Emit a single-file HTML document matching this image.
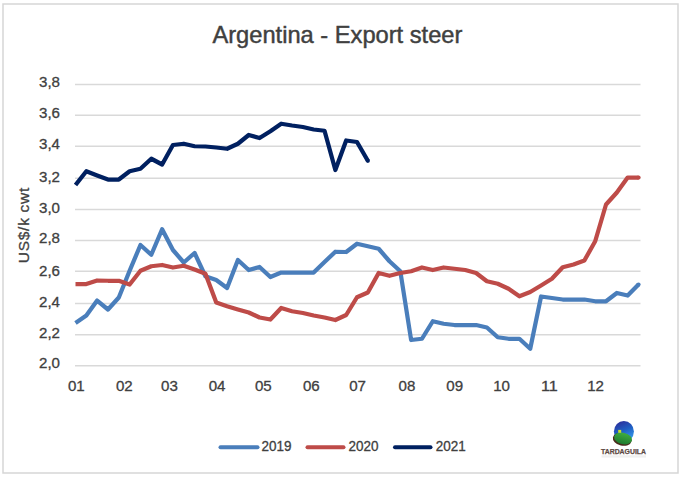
<!DOCTYPE html>
<html><head><meta charset="utf-8">
<style>
html,body{margin:0;padding:0;background:#fff;}
body{width:688px;height:483px;overflow:hidden;}
svg{display:block;}
text{font-family:"Liberation Sans", sans-serif;fill:#404040;stroke:#404040;stroke-width:0.3px;}
.ax{font-size:15.2px;}
.title{font-size:24px;stroke-width:0.45px;}
.yt{font-size:15.5px;}
.lg{font-size:14px;}
.logo{font-size:7px;font-weight:bold;fill:#5e4a44;stroke:#5e4a44;stroke-width:0.25px;}
</style></head>
<body>
<svg width="688" height="483" viewBox="0 0 688 483">
<rect x="3" y="4" width="675" height="469" fill="#fff" stroke="#d6d6d6" stroke-width="1.5"/>
<line x1="75" y1="84.40" x2="640.5" y2="84.40" stroke="#d9d9d9" stroke-width="1.5"/>
<line x1="75" y1="115.30" x2="640.5" y2="115.30" stroke="#d9d9d9" stroke-width="1.5"/>
<line x1="75" y1="146.30" x2="640.5" y2="146.30" stroke="#d9d9d9" stroke-width="1.5"/>
<line x1="75" y1="178.30" x2="640.5" y2="178.30" stroke="#d9d9d9" stroke-width="1.5"/>
<line x1="75" y1="209.50" x2="640.5" y2="209.50" stroke="#d9d9d9" stroke-width="1.5"/>
<line x1="75" y1="240.50" x2="640.5" y2="240.50" stroke="#d9d9d9" stroke-width="1.5"/>
<line x1="75" y1="271.30" x2="640.5" y2="271.30" stroke="#d9d9d9" stroke-width="1.5"/>
<line x1="75" y1="303.50" x2="640.5" y2="303.50" stroke="#d9d9d9" stroke-width="1.5"/>
<line x1="75" y1="334.80" x2="640.5" y2="334.80" stroke="#d9d9d9" stroke-width="1.5"/>
<line x1="75" y1="365.70" x2="640.5" y2="365.70" stroke="#d9d9d9" stroke-width="1.5"/>
<text x="60" y="87.15" text-anchor="end" class="ax" textLength="21" lengthAdjust="spacingAndGlyphs">3,8</text>
<text x="60" y="118.30" text-anchor="end" class="ax" textLength="21" lengthAdjust="spacingAndGlyphs">3,6</text>
<text x="60" y="149.30" text-anchor="end" class="ax" textLength="21" lengthAdjust="spacingAndGlyphs">3,4</text>
<text x="60" y="181.70" text-anchor="end" class="ax" textLength="21" lengthAdjust="spacingAndGlyphs">3,2</text>
<text x="60" y="212.50" text-anchor="end" class="ax" textLength="21" lengthAdjust="spacingAndGlyphs">3,0</text>
<text x="60" y="243.40" text-anchor="end" class="ax" textLength="21" lengthAdjust="spacingAndGlyphs">2,8</text>
<text x="60" y="275.60" text-anchor="end" class="ax" textLength="21" lengthAdjust="spacingAndGlyphs">2,6</text>
<text x="60" y="306.60" text-anchor="end" class="ax" textLength="21" lengthAdjust="spacingAndGlyphs">2,4</text>
<text x="60" y="337.60" text-anchor="end" class="ax" textLength="21" lengthAdjust="spacingAndGlyphs">2,2</text>
<text x="60" y="368.30" text-anchor="end" class="ax" textLength="21" lengthAdjust="spacingAndGlyphs">2,0</text>
<text x="67.90" y="390.85" class="ax" textLength="16.8" lengthAdjust="spacingAndGlyphs">01</text>
<text x="115.90" y="390.85" class="ax" textLength="16.8" lengthAdjust="spacingAndGlyphs">02</text>
<text x="161.10" y="390.85" class="ax" textLength="16.8" lengthAdjust="spacingAndGlyphs">03</text>
<text x="208.70" y="390.85" class="ax" textLength="16.8" lengthAdjust="spacingAndGlyphs">04</text>
<text x="254.90" y="390.85" class="ax" textLength="16.8" lengthAdjust="spacingAndGlyphs">05</text>
<text x="302.90" y="390.85" class="ax" textLength="16.8" lengthAdjust="spacingAndGlyphs">06</text>
<text x="349.20" y="390.85" class="ax" textLength="16.8" lengthAdjust="spacingAndGlyphs">07</text>
<text x="398.60" y="390.85" class="ax" textLength="16.8" lengthAdjust="spacingAndGlyphs">08</text>
<text x="446.35" y="390.85" class="ax" textLength="16.8" lengthAdjust="spacingAndGlyphs">09</text>
<text x="493.20" y="390.85" class="ax" textLength="16.8" lengthAdjust="spacingAndGlyphs">10</text>
<text x="541.00" y="390.85" class="ax" textLength="16.8" lengthAdjust="spacingAndGlyphs">11</text>
<text x="587.20" y="390.85" class="ax" textLength="16.8" lengthAdjust="spacingAndGlyphs">12</text>
<text x="212.4" y="43.1" class="title" textLength="250" lengthAdjust="spacingAndGlyphs">Argentina - Export steer</text>
<text transform="translate(29,263.2) rotate(-90)" x="0" y="0" class="yt" textLength="75.5" lengthAdjust="spacing">US$/k cwt</text>
<polyline points="75.50,323.00 86.33,315.60 97.15,300.60 107.98,309.50 118.81,297.50 129.63,270.75 140.46,245.00 151.29,254.75 162.12,229.25 172.94,250.00 183.77,262.50 194.60,253.00 205.42,276.25 216.25,280.00 227.08,288.00 237.90,260.00 248.73,270.00 259.56,267.00 270.38,277.00 281.21,272.50 292.04,272.50 302.87,272.50 313.69,272.50 324.52,262.00 335.35,251.75 346.17,252.00 357.00,243.75 367.83,246.25 378.65,248.75 389.48,261.25 400.31,271.25 411.13,340.00 421.96,338.75 432.79,321.25 443.62,323.75 454.44,325.00 465.27,325.00 476.10,325.00 486.92,327.50 497.75,337.25 508.58,338.75 519.40,338.75 530.23,348.75 541.06,296.50 551.88,298.00 562.71,299.50 573.54,299.50 584.37,299.50 595.19,301.25 606.02,301.25 616.85,293.00 627.67,295.50 638.50,284.50" fill="none" stroke="#4A7EBB" stroke-width="4.25" stroke-linejoin="round" stroke-linecap="butt"/>
<circle cx="638.50" cy="284.50" r="2.125" fill="#4A7EBB"/>
<polyline points="75.50,284.00 86.33,284.00 97.15,280.50 107.98,280.75 118.81,280.75 129.63,284.50 140.46,270.75 151.29,266.25 162.12,265.00 172.94,267.50 183.77,265.75 194.60,269.50 205.42,273.75 216.25,302.50 227.08,306.25 237.90,309.50 248.73,312.50 259.56,317.50 270.38,319.50 281.21,308.00 292.04,311.25 302.87,313.00 313.69,315.50 324.52,317.50 335.35,320.00 346.17,315.00 357.00,297.25 367.83,292.50 378.65,273.00 389.48,275.75 400.31,273.00 411.13,271.25 421.96,267.50 432.79,270.00 443.62,267.50 454.44,268.75 465.27,270.00 476.10,273.00 486.92,281.25 497.75,283.75 508.58,288.75 519.40,296.25 530.23,292.00 541.06,285.50 551.88,278.75 562.71,267.25 573.54,264.50 584.37,260.50 595.19,241.25 606.02,204.50 616.85,192.50 627.67,177.50 638.50,177.50" fill="none" stroke="#BE4B48" stroke-width="4.25" stroke-linejoin="round" stroke-linecap="butt"/>
<circle cx="638.50" cy="177.50" r="2.125" fill="#BE4B48"/>
<polyline points="75.50,185.00 86.33,171.25 97.15,175.50 107.98,179.50 118.81,179.50 129.63,171.25 140.46,168.75 151.29,158.75 162.12,164.50 172.94,145.00 183.77,143.75 194.60,146.25 205.42,146.50 216.25,147.50 227.08,148.75 237.90,143.75 248.73,135.00 259.56,138.00 270.38,131.25 281.21,123.75 292.04,125.50 302.87,127.00 313.69,129.50 324.52,130.75 335.35,170.00 346.17,140.50 357.00,142.00 367.83,160.75" fill="none" stroke="#002060" stroke-width="4.25" stroke-linejoin="round" stroke-linecap="butt"/>
<circle cx="367.83" cy="160.75" r="2.125" fill="#002060"/>
<line x1="220.5" y1="447.25" x2="257.5" y2="447.25" stroke="#4A7EBB" stroke-width="4" stroke-linecap="round"/>
<text x="261.5" y="450.5" class="lg" textLength="30" lengthAdjust="spacingAndGlyphs">2019</text>
<line x1="307.5" y1="447.25" x2="343.5" y2="447.25" stroke="#BE4B48" stroke-width="4" stroke-linecap="round"/>
<text x="348.5" y="450.5" class="lg" textLength="30" lengthAdjust="spacingAndGlyphs">2020</text>
<line x1="395.0" y1="447.25" x2="430.5" y2="447.25" stroke="#002060" stroke-width="4" stroke-linecap="round"/>
<text x="435.75" y="450.5" class="lg" textLength="30" lengthAdjust="spacingAndGlyphs">2021</text>

<defs>
<linearGradient id="sky" x1="0.3" y1="0" x2="0.7" y2="1">
<stop offset="0" stop-color="#2b2f9c"/><stop offset="0.45" stop-color="#1f5fc4"/><stop offset="1" stop-color="#3aa6f2"/>
</linearGradient>
<linearGradient id="hill" x1="0" y1="0" x2="0" y2="1">
<stop offset="0" stop-color="#3fae3f"/><stop offset="1" stop-color="#1f7a2f"/>
</linearGradient>
</defs>
<ellipse cx="623.9" cy="431.6" rx="10" ry="10.6" fill="url(#sky)"/>
<ellipse cx="622.2" cy="439.4" rx="9.5" ry="6.2" transform="rotate(13 622.3 439.3)" fill="#4a2a1c"/>
<ellipse cx="623.1" cy="438.4" rx="9.1" ry="5.7" transform="rotate(13 622.9 438.3)" fill="url(#hill)"/>
<rect x="618.2" y="429.9" width="3" height="2.9" fill="#c9e02a"/>
<text x="601" y="453.6" class="logo" textLength="45" lengthAdjust="spacingAndGlyphs">TARDAGUILA</text>
<g fill="#ececec">
<rect x="601.5" y="455.3" width="44.5" height="2.3" fill="#f0f0f0"/>
</g>

</svg>
</body></html>
